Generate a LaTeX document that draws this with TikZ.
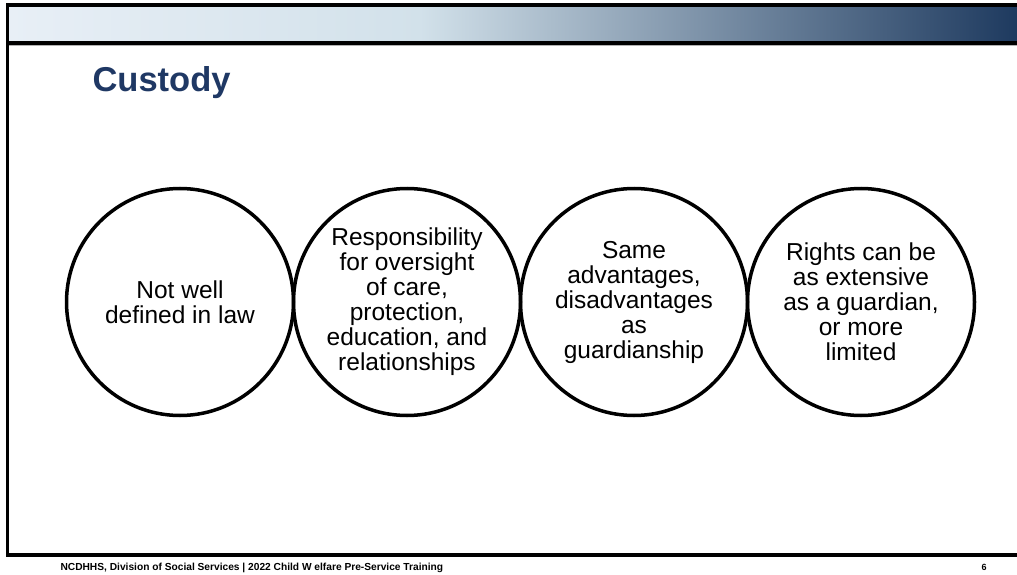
\documentclass[tikz,border=0pt]{standalone}
\usepackage{fontspec}
\setmainfont{Liberation Sans}
\definecolor{titleblue}{HTML}{1F3864}
\definecolor{bandlight}{HTML}{E8EFF6}
\definecolor{bandmid}{HTML}{D2E1EA}
\definecolor{banddark}{HTML}{1E3A5F}
\begin{document}
\begin{tikzpicture}[x=1pt,y=-1pt,
    bubble/.style={circle,draw,line width=3.5pt,minimum size=227pt,inner sep=0pt,
      outer sep=0pt,align=center,font=\fontsize{24.5}{25}\selectfont}]
            \useasboundingbox (0,0) rectangle (1017,575);
            % header band
            \shade[left color=bandlight,right color=bandmid] (8,7) rectangle (420,41);
            \shade[left color=bandmid,right color=banddark] (420,7) rectangle (1017,41);
            \fill (6,3.3) rectangle (1017,7.3);
            \fill (6,40.7) rectangle (1017,45);
            \fill[gray!60] (9,45) rectangle (1017,46);
            \fill (6,3.3) rectangle (9.3,557);
            \fill (6,552.7) rectangle (1017,557);
            \node[anchor=base west,text=titleblue,font=\fontsize{34.5}{40}\selectfont\bfseries]
                (title) at (89,92) {Custody};
            \def\gap{227}
            \foreach \i/\txt in {1/{Not well\\defined in law},
                2/{Responsibility\\for oversight\\of care,\\protection,\\education, and\\relationships},
                3/{Same\\advantages,\\disadvantages\\as\\guardianship},
                4/{Rights can be\\as extensive\\as a guardian,\\or more\\limited}} {
                \node[bubble] (c\i) at ({180+\gap*(\i-1)},302) {\txt};
            }
            \node[anchor=base west,font=\fontsize{10.2}{12}\selectfont\bfseries]
                (foot) at (57,570) {NCDHHS, Division of Social Services | 2022 Child W elfare Pre-Service Training};
            \node[anchor=base west,font=\fontsize{9}{12}\selectfont\bfseries]
                (page) at (978,570) {6};
        \end{tikzpicture}
\end{document}
